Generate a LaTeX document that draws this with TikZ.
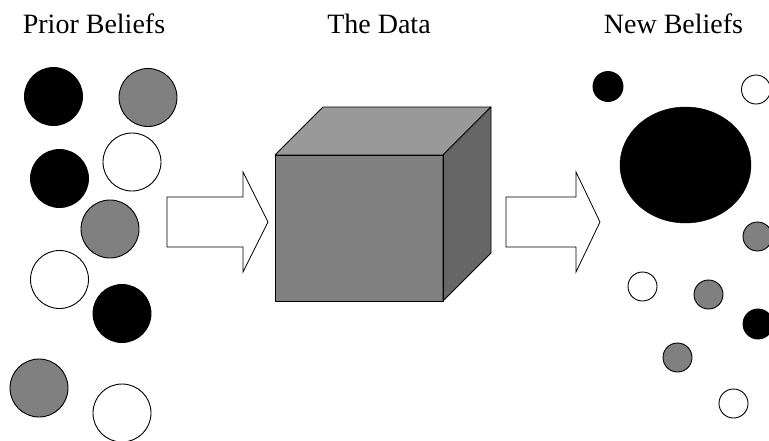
\documentclass[tikz,border=0pt]{standalone}
\usepackage{fontspec}
\setmainfont{Liberation Serif}
\usetikzlibrary{shapes.geometric}
\definecolor{midgray}{HTML}{808080}
\definecolor{topgray}{HTML}{999999}
\definecolor{sidegray}{HTML}{666666}
\begin{document}
\begin{tikzpicture}[x=1pt,y=-1pt,
  ball/.style={circle,draw=black,line width=0.9pt,inner sep=0pt,minimum size=#1},
  darkball/.style={ball=#1,fill=black},
  midball/.style={ball=#1,fill=midgray},
  lightball/.style={ball=#1,fill=white},
  heading/.style={anchor=base,inner sep=0pt,font=\fontsize{28}{32}\selectfont},
  face/.style={draw=black,line width=0.9pt,line join=round},
  bigarrow/.style={draw=black,line width=0.8pt,fill=white,line join=miter}]
\useasboundingbox (0,0) rectangle (769,440);
\clip (0,0) rectangle (769,440);

% headings
\node[heading] (prior) at (94,33) {Prior Beliefs};
\node[heading] (data) at (379,33) {The Data};
\node[heading] (post) at (673.5,33) {New Beliefs};

% prior beliefs
\node[darkball=58pt]  (p1) at (53.5,96.5) {};
\node[midball=58pt]   (p2) at (148,97.5) {};
\node[lightball=58pt] (p3) at (132,162) {};
\node[darkball=58pt]  (p4) at (59.5,178.5) {};
\node[midball=58pt]   (p5) at (110,229) {};
\node[lightball=58pt] (p6) at (59.5,279.5) {};
\node[darkball=58pt]  (p7) at (122,313.5) {};
\node[midball=58pt]   (p8) at (39,388) {};
\node[lightball=58pt] (p9) at (122,413) {};

% arrows
\draw[bigarrow] (167,197) -- (243,197) -- (243,172) -- (268,222) -- (243,272) -- (243,247) -- (167,247) -- cycle;
\draw[bigarrow] (506,197) -- (576,197) -- (576,172) -- (600,222) -- (576,272) -- (576,247) -- (506,247) -- cycle;

% the data cube
\fill[midgray] (275,155) rectangle (443,301);
\filldraw[face,fill=topgray] (275,155) -- (323,107) -- (491,107) -- (443,155) -- cycle;
\filldraw[face,fill=sidegray] (443,155) -- (491,107) -- (491,253) -- (443,301) -- cycle;
\draw[face] (275,155) rectangle (443,301);

% new beliefs
\node[darkball=30pt]  (n1) at (608,86.5) {};
\node[lightball=29pt] (n2) at (756,89.5) {};
\node[ellipse,fill=black,draw=black,inner sep=0pt,minimum width=131pt,minimum height=116pt] (n3) at (685.5,165) {};
\node[midball=29pt]   (n4) at (757.5,236.5) {};
\node[lightball=29pt] (n5) at (642.5,286.5) {};
\node[midball=29pt]   (n6) at (708.5,294.5) {};
\node[darkball=30pt]  (n7) at (758,324) {};
\node[midball=29pt]   (n8) at (677.5,357.5) {};
\node[lightball=29pt] (n9) at (733.5,403.5) {};
\end{tikzpicture}
\end{document}
